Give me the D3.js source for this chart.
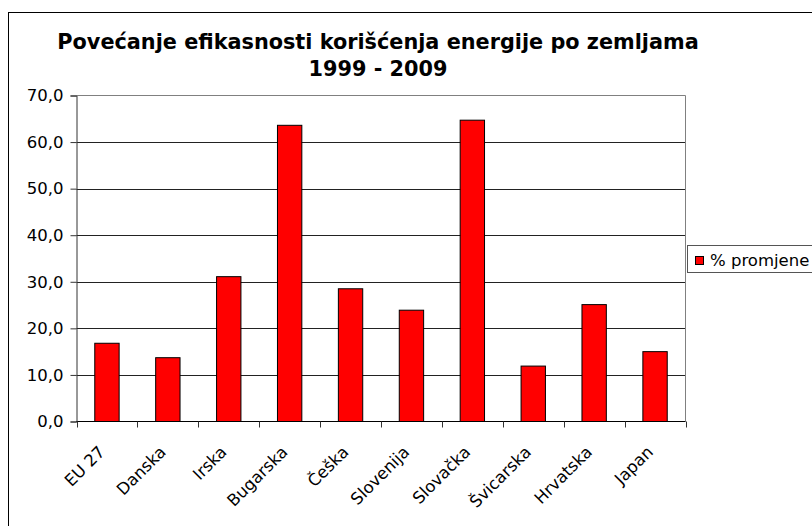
<!DOCTYPE html>
<meta charset="utf-8">
<style>
  body { margin: 0; background: #fff; }
  text { font-family: "DejaVu Sans", Verdana, sans-serif; }
</style>
<script src="https://d3js.org/d3.v7.min.js"></script>
<div id="chart"></div>
<script>
// data
var countries = ["EU 27", "Danska", "Irska", "Bugarska", "Češka", "Slovenija", "Slovačka", "Švicarska", "Hrvatska", "Japan"];
var promjena = [16.8, 13.7, 31.1, 63.6, 28.5, 23.9, 64.7, 11.9, 25.1, 15.0];
var yTicks = [0, 10, 20, 30, 40, 50, 60, 70];
var titleLines = ["Povećanje efikasnosti korišćenja energije po zemljama", "1999 - 2009"];
var legendLabel = "% promjene";

var W = 812, H = 526;
var plot = {left: 76.5, right: 685.5, top: 95.5, bottom: 421.5};

var svg = d3.select("#chart").append("svg")
  .attr("width", W)
  .attr("height", H);

// outer chart frame (cut by the window on right and bottom)
svg.append("rect")
  .attr("x", 8.5).attr("y", 12.5)
  .attr("width", 900).attr("height", 600)
  .attr("fill", "#fff").attr("stroke", "#000");

// title
var title = svg.append("g");
titleLines.forEach(function(t, i) {
  title.append("text")
    .attr("x", 378)
    .attr("y", i == 0 ? 49 : 76)
    .attr("text-anchor", "middle")
    .attr("font-weight", "bold")
    .attr("font-size", 20)
    .text(t);
});
// fit first line to the width it has in the picture
var first = title.select("text").node();
var fs = 20 * 642 / first.getComputedTextLength();
title.selectAll("text").attr("font-size", fs);

var x = d3.scaleBand()
  .domain(countries)
  .range([plot.left, plot.right])
  .padding(0);

var y = d3.scaleLinear()
  .domain([0, 70])
  .range([plot.bottom, plot.top]);

// gridlines
svg.append("g")
  .selectAll("line")
  .data(yTicks.filter(function(d) { return d > 0 && d < 70; }))
  .enter().append("line")
    .attr("x1", plot.left).attr("x2", plot.right)
    .attr("y1", function(d) { return Math.round(y(d)) + 0.5; })
    .attr("y2", function(d) { return Math.round(y(d)) + 0.5; })
    .attr("stroke", "#222");

// plot area border (top, right)
svg.append("path")
  .attr("d", "M" + plot.left + "," + plot.top + "H" + plot.right + "V" + plot.bottom)
  .attr("fill", "none")
  .attr("stroke", "#808080");

// bars
var barW = x.bandwidth() / 2.5;
svg.append("g")
  .selectAll("rect")
  .data(countries)
  .enter().append("rect")
    .attr("x", function(d) { return x(d) + (x.bandwidth() - barW) / 2; })
    .attr("y", function(d, i) { return y(promjena[i]); })
    .attr("width", barW)
    .attr("height", function(d, i) { return y(0) - y(promjena[i]); })
    .attr("fill", "#ff0000")
    .attr("stroke", "#000")
    .attr("stroke-width", 1);

// y axis
var yAxis = svg.append("g")
  .attr("transform", "translate(" + plot.left + ",0)")
  .call(d3.axisLeft(y).tickValues(yTicks).tickSize(6).tickPadding(7)
    .tickFormat(function(d) { return d3.format(".1f")(d).replace(".", ","); }));
yAxis.select(".domain").attr("stroke", "#333");
yAxis.selectAll(".tick line").attr("stroke", "#333");
yAxis.selectAll("text")
  .attr("font-family", "DejaVu Sans, Verdana, sans-serif")
  .attr("font-size", 16.5)
  .attr("fill", "#000");

// x axis with ticks between categories
var xAxis = svg.append("g");
xAxis.append("line")
  .attr("x1", plot.left).attr("x2", plot.right)
  .attr("y1", plot.bottom).attr("y2", plot.bottom)
  .attr("stroke", "#000");
var edges = countries.map(function(d) { return x(d); }).concat([x.range()[1]]);
xAxis.selectAll(".xt")
  .data(edges)
  .enter().append("line")
    .attr("class", "xt")
    .attr("x1", function(d) { return Math.round(d) + 0.5; })
    .attr("x2", function(d) { return Math.round(d) + 0.5; })
    .attr("y1", plot.bottom).attr("y2", plot.bottom + 6)
    .attr("stroke", "#333");
xAxis.selectAll(".xl")
  .data(countries)
  .enter().append("text")
    .attr("class", "xl")
    .attr("text-anchor", "end")
    .attr("font-size", 16.5)
    .attr("transform", function(d) {
      return "translate(" + (x(d) + x.bandwidth() / 2 - 1) + "," + 453 + ") rotate(-45)";
    })
    .text(function(d) { return d; });

// legend
var lg = svg.append("g");
lg.append("rect")
  .attr("x", 687.5).attr("y", 245.5)
  .attr("width", 140).attr("height", 27)
  .attr("fill", "#fff").attr("stroke", "#555");
lg.append("rect")
  .attr("x", 695.5).attr("y", 256.5)
  .attr("width", 8).attr("height", 8)
  .attr("fill", "#ff0000").attr("stroke", "#000");
lg.append("text")
  .attr("x", 710).attr("y", 266)
  .attr("font-size", 16.5)
  .text(legendLabel);
</script>
